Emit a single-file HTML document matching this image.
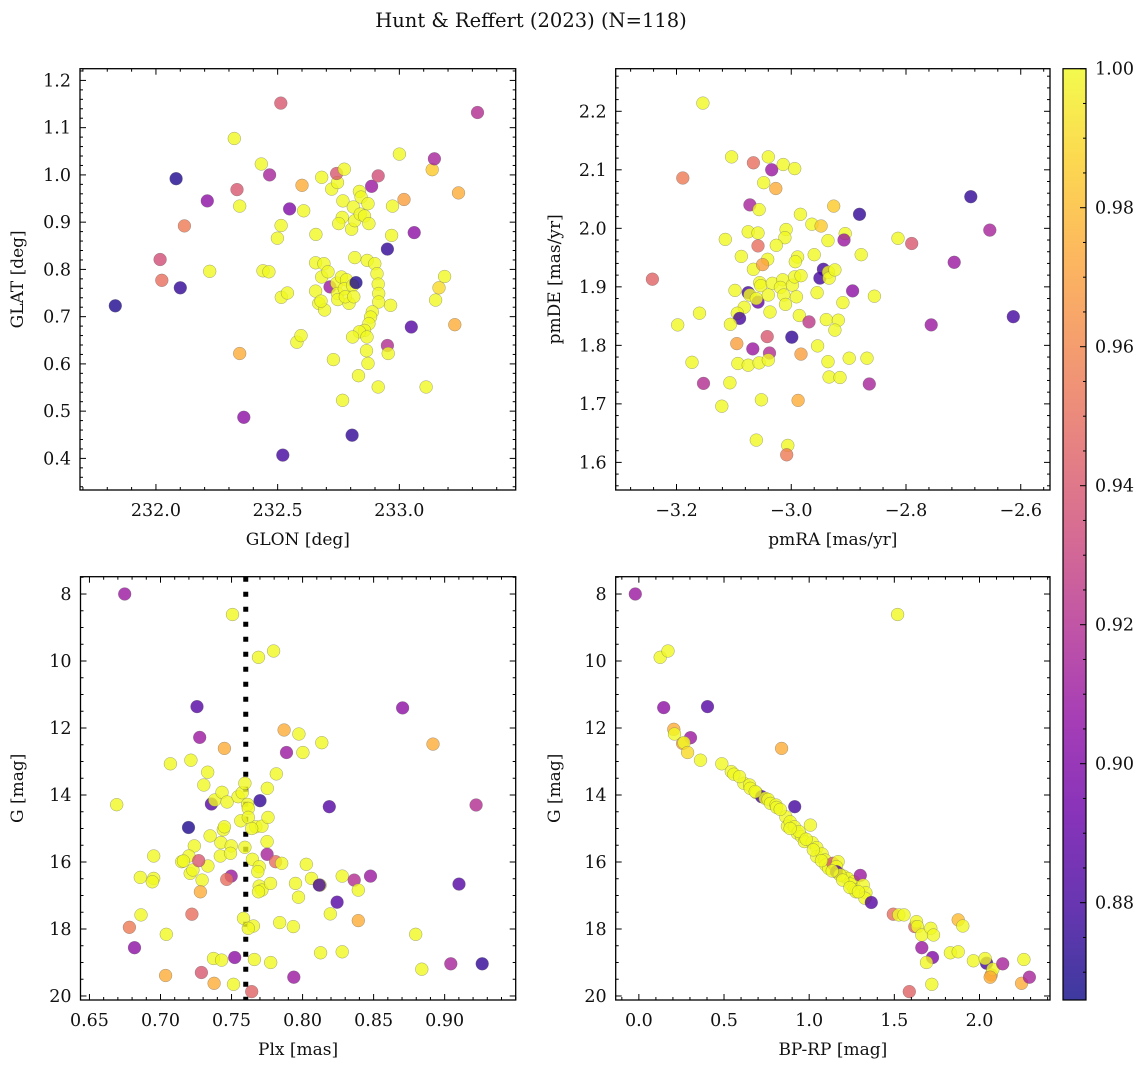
<!DOCTYPE html>
<html><head><meta charset="utf-8">
<style>
html,body{margin:0;padding:0;background:#fff;}
svg{display:block;}
text{font-family:"DejaVu Serif","Liberation Serif",serif;fill:#111;}
</style></head>
<body>
<svg id="fig" width="1148" height="1067" viewBox="0 0 1148 1067" xmlns="http://www.w3.org/2000/svg">
<defs>
<linearGradient id="plasmaGrad" x1="0" y1="1" x2="0" y2="0">
<stop offset="0" stop-color="#0d0887"/><stop offset="0.1" stop-color="#41049d"/><stop offset="0.2" stop-color="#6a00a8"/><stop offset="0.3" stop-color="#8f0da4"/><stop offset="0.4" stop-color="#b12a90"/><stop offset="0.5" stop-color="#cc4778"/><stop offset="0.6" stop-color="#e16462"/><stop offset="0.7" stop-color="#f2844b"/><stop offset="0.8" stop-color="#fca636"/><stop offset="0.9" stop-color="#fcce25"/><stop offset="1" stop-color="#f0f921"/>
</linearGradient>
</defs>
<text x="531" y="27" text-anchor="middle" font-size="19.5">Hunt &amp; Reffert (2023) (N=118)</text>
</svg>
<script>
// ---- Panel 1: GLON vs GLAT ----
const glon = [231.833,232.083,232.100,232.017,232.024,232.117,232.211,232.221,232.322,232.333,232.344,232.344,232.361,232.433,232.467,232.513,232.499,232.514,232.440,232.464,232.515,232.540,232.521,232.549,232.579,232.596,232.600,232.607,232.657,232.681,232.656,232.690,232.656,232.669,232.693,232.678,232.681,232.707,232.715,232.722,232.746,232.742,232.774,232.768,232.765,232.751,232.804,232.743,232.746,232.762,232.783,232.774,232.793,232.747,232.778,232.811,232.817,232.836,232.843,232.871,232.839,232.857,232.875,232.817,232.808,232.822,232.806,232.813,232.868,232.899,232.908,232.913,232.915,232.915,232.889,232.882,232.875,232.857,232.836,232.808,232.867,232.729,232.832,232.767,232.865,232.871,232.913,232.886,232.913,232.951,232.951,232.954,232.964,232.972,232.968,233.000,233.019,233.049,233.061,233.110,233.135,233.144,233.149,233.163,233.186,233.228,233.243,233.321];
const glat = [0.723,0.992,0.761,0.821,0.777,0.892,0.945,0.796,1.077,0.969,0.934,0.622,0.487,1.023,1.000,1.152,0.866,0.893,0.797,0.795,0.741,0.750,0.407,0.928,0.646,0.660,0.978,0.924,0.874,0.995,0.814,0.812,0.754,0.728,0.714,0.733,0.784,0.795,0.763,0.970,0.984,1.003,1.012,0.945,0.910,0.897,0.885,0.771,0.749,0.784,0.778,0.759,0.728,0.736,0.742,0.932,0.903,0.965,0.953,0.939,0.917,0.913,0.897,0.825,0.766,0.772,0.449,0.742,0.819,0.812,0.791,0.769,0.749,0.731,0.710,0.699,0.685,0.671,0.668,0.657,0.657,0.609,0.575,0.523,0.628,0.601,0.551,0.976,0.998,0.843,0.639,0.622,0.724,0.934,0.872,1.044,0.948,0.678,0.878,0.551,1.011,1.034,0.735,0.761,0.785,0.683,0.962,1.132];
const prob1 = [0.87,0.87,0.875,0.935,0.95,0.955,0.905,1,1,0.94,1,0.975,0.905,1,0.915,0.94,1,1,1,1,1,1,0.88,0.9,1,1,0.975,1,1,1,1,1,1,1,1,1,1,1,0.91,1,1,0.94,1,1,1,1,1,1,1,1,1,1,1,1,1,1,1,1,1,1,1,1,1,1,1,0.87,0.875,1,1,1,1,1,1,1,1,1,1,1,1,1,1,1,1,1,1,1,1,0.91,0.935,0.875,0.92,1,1,1,1,1,0.97,0.885,0.905,1,0.985,0.915,1,0.99,1,0.975,0.975,0.92];

// ---- Panel 2: pmRA vs pmDE ----
const pmra = [-3.242,-3.154,-3.189,-3.104,-3.066,-3.040,-3.034,-3.014,-2.994,-3.048,-3.027,-3.072,-3.056,-2.984,-2.926,-2.881,-2.964,-2.948,-3.009,-3.011,-3.075,-3.058,-3.115,-3.058,-3.026,-2.936,-2.906,-2.908,-2.814,-2.790,-2.687,-2.654,-2.716,-2.613,-2.756,-3.087,-3.066,-3.041,-3.050,-2.989,-2.993,-2.960,-2.878,-2.944,-2.950,-2.935,-2.934,-2.924,-3.055,-3.053,-3.033,-3.015,-3.019,-2.998,-2.994,-2.983,-3.013,-2.991,-3.010,-3.098,-3.075,-3.072,-3.058,-3.061,-3.040,-2.955,-2.893,-2.855,-2.910,-3.082,-3.094,-3.090,-3.106,-3.160,-3.198,-3.037,-2.986,-2.939,-2.918,-2.924,-2.969,-2.999,-3.042,-3.095,-3.067,-3.038,-2.954,-2.983,-3.173,-3.093,-3.075,-3.056,-3.040,-2.936,-2.899,-2.868,-2.934,-2.915,-3.153,-3.107,-2.864,-3.121,-3.052,-2.988,-3.061,-3.006,-3.008];
const pmde = [1.913,2.214,2.086,2.122,2.112,2.122,2.100,2.109,2.102,2.078,2.068,2.040,2.032,2.024,2.038,2.024,2.007,2.004,1.998,1.984,1.994,1.992,1.981,1.970,1.971,1.979,1.991,1.980,1.983,1.974,2.054,1.997,1.942,1.849,1.835,1.952,1.930,1.947,1.938,1.951,1.943,1.955,1.955,1.930,1.915,1.925,1.915,1.929,1.907,1.902,1.906,1.912,1.899,1.903,1.917,1.919,1.886,1.883,1.870,1.894,1.890,1.886,1.874,1.880,1.886,1.890,1.893,1.884,1.873,1.865,1.855,1.846,1.836,1.855,1.835,1.857,1.851,1.844,1.843,1.826,1.840,1.814,1.815,1.803,1.794,1.787,1.799,1.785,1.771,1.769,1.766,1.770,1.775,1.772,1.778,1.778,1.746,1.745,1.735,1.736,1.734,1.696,1.707,1.706,1.638,1.629,1.613];
const prob2 = [0.945,1,0.955,1,0.95,1,0.91,1,1,1,0.975,0.915,1,1,0.985,0.875,1,0.985,1,1,1,1,1,0.95,1,1,1,0.91,1,0.94,0.875,0.915,0.91,0.88,0.91,1,1,1,0.97,1,1,1,1,0.88,0.88,1,1,1,1,1,1,1,1,1,1,1,1,1,1,1,0.88,1,0.89,1,1,1,0.905,1,1,1,1,0.88,1,1,1,1,1,1,1,1,0.925,0.875,0.94,0.97,0.91,0.92,1,0.97,1,1,1,1,1,1,1,1,1,1,0.92,1,0.915,1,1,0.975,1,1,0.955];

// ---- Panel 3: Plx vs G ----
const plx = [0.6748,0.7507,0.7690,0.7796,0.7257,0.8704,0.7870,0.7974,0.8135,0.8918,0.7276,0.7450,0.7887,0.8002,0.7070,0.7214,0.7332,0.7305,0.7815,0.7752,0.6692,0.7358,0.7382,0.7433,0.7469,0.7546,0.7575,0.7594,0.7613,0.7618,0.7700,0.8188,0.9221,0.7197,0.7565,0.7618,0.7671,0.7714,0.7757,0.7642,0.7349,0.7442,0.7450,0.7425,0.7498,0.7594,0.7750,0.7238,0.6952,0.7200,0.7149,0.7161,0.7209,0.7228,0.7421,0.7493,0.7334,0.7269,0.7647,0.7695,0.7685,0.7750,0.7810,0.7853,0.8026,0.6858,0.6952,0.6942,0.6863,0.7293,0.7281,0.7498,0.7466,0.7695,0.7714,0.7774,0.7690,0.7950,0.7971,0.8063,0.8123,0.8118,0.8279,0.8363,0.8478,0.8392,0.8243,0.9101,0.8195,0.7221,0.6781,0.7041,0.7584,0.7654,0.7618,0.7839,0.7935,0.8392,0.8796,0.6817,0.7373,0.7430,0.7522,0.7661,0.7776,0.8127,0.8279,0.9043,0.9264,0.8839,0.7036,0.7288,0.7377,0.7514,0.7938,0.7642];
const gmag3 = [8.00,8.61,9.89,9.70,11.36,11.40,12.06,12.18,12.44,12.48,12.28,12.61,12.73,12.73,13.07,12.96,13.32,13.70,13.37,13.80,14.29,14.27,14.15,13.92,14.21,14.05,13.93,13.65,14.28,14.40,14.17,14.35,14.30,14.97,14.77,14.67,14.95,14.93,14.67,15.00,15.22,15.04,14.95,15.42,15.52,15.56,15.39,15.52,15.82,15.82,15.99,15.97,16.34,16.24,15.82,15.74,16.12,15.96,15.92,16.14,16.29,15.77,15.99,16.04,16.07,16.46,16.49,16.59,17.58,16.54,16.89,16.42,16.52,16.72,16.84,16.64,16.89,16.64,17.05,16.49,16.69,16.69,16.42,16.54,16.42,16.84,17.20,16.66,17.55,17.56,17.95,18.16,17.68,17.91,17.98,17.81,17.93,17.75,18.16,18.56,18.88,18.93,18.85,18.91,19.00,18.71,18.68,19.04,19.04,19.20,19.39,19.30,19.62,19.65,19.44,19.87];
const prob3 = [0.91,1,1,1,0.885,0.905,0.975,1,1,0.975,0.91,0.975,0.91,1,1,1,1,1,1,1,1,0.885,1,1,1,1,1,1,1,1,0.875,0.885,0.92,0.87,1,1,1,1,1,1,1,1,1,1,1,1,1,1,1,1,1,1,1,1,1,1,1,0.94,1,1,1,0.915,0.95,1,1,1,1,1,1,1,0.975,0.91,0.95,1,1,1,1,1,1,1,1,0.88,1,0.92,0.91,1,0.885,0.885,1,0.95,0.955,1,1,1,1,1,1,0.975,1,0.905,1,1,0.905,1,1,1,1,0.915,0.875,1,0.975,0.94,0.975,1,0.91,0.945];
const plxLine = [0.76];

// ---- Panel 4: BP-RP vs G ----
const bprp = [-0.021,1.519,0.125,0.171,0.146,0.403,0.205,0.209,0.303,0.257,0.265,0.286,0.362,0.838,0.487,0.543,0.558,0.617,0.650,0.654,0.690,0.721,0.742,0.759,0.773,0.805,0.809,0.915,0.863,0.872,0.888,0.913,0.930,0.955,1.007,0.972,1.018,1.045,1.045,1.076,1.093,1.097,1.114,1.139,1.170,1.160,1.174,1.202,1.227,1.260,1.243,1.300,1.264,1.275,1.317,1.333,1.327,1.365,1.160,1.181,1.494,1.526,1.557,1.620,1.630,1.636,1.661,1.714,1.730,1.661,1.724,1.689,1.720,1.588,1.875,1.902,1.829,1.875,1.964,2.042,2.033,2.069,2.079,2.063,2.136,2.261,2.247,2.293,0.940,0.982,1.024,1.072,1.135,1.197,1.239,1.289,0.591,0.683,0.830,0.888];
const gmag4 = [8.00,8.61,9.89,9.70,11.39,11.36,12.04,12.18,12.29,12.46,12.44,12.73,12.96,12.61,13.07,13.30,13.38,13.65,13.70,13.80,13.93,14.05,14.10,14.13,14.25,14.30,14.37,14.35,14.65,14.93,14.80,14.95,15.14,15.24,14.90,15.39,15.42,15.57,15.84,15.76,15.94,16.09,16.19,16.04,15.99,16.14,16.34,16.42,16.49,16.59,16.66,16.40,16.82,16.89,16.69,16.92,17.08,17.21,16.29,16.39,17.56,17.58,17.58,17.93,17.78,17.93,18.18,17.98,18.18,18.56,18.85,19.00,19.65,19.87,17.73,17.91,18.71,18.68,18.95,19.02,18.88,19.37,19.20,19.44,19.04,18.91,19.62,19.44,15.09,15.32,15.64,15.96,16.27,16.54,16.76,16.89,13.45,13.90,14.43,15.00];
const prob4 = [0.91,1,1,1,0.905,0.885,0.975,1,0.91,0.97,1,0.99,1,0.975,1,1,1,1,1,1,1,0.88,1,1,1,1,1,0.88,1,1,1,1,1,1,1,1,1,1,1,1,1,1,1,0.94,1,1,1,1,1,1,1,0.91,1,1,1,1,1,0.885,0.885,1,0.95,1,1,0.945,1,1,1,1,1,0.91,0.9,1,1,0.945,0.98,1,1,1,1,0.88,1,0.97,1,0.975,0.915,1,0.975,0.915,1,1,1,1,1,1,1,1,1,1,1,1];

// ---- Colorbar ----
const cbTicks = [0.88,0.90,0.92,0.94,0.96,0.98,1.00];
const cbRange = [0.866, 1.0];

// ---- Axis ticks ----
const glonTicks = [232.0,232.5,233.0];
const glatTicks = [0.4,0.5,0.6,0.7,0.8,0.9,1.0,1.1,1.2];
const pmraTicks = [-3.2,-3.0,-2.8,-2.6];
const pmdeTicks = [1.6,1.7,1.8,1.9,2.0,2.1,2.2];
const plxTicks = [0.65,0.70,0.75,0.80,0.85,0.90];
const gTicks = [8,10,12,14,16,18,20];
const bprpTicks = [0.0,0.5,1.0,1.5,2.0];

const NS='http://www.w3.org/2000/svg';
const svg=document.getElementById('fig');
function mk(tag,attrs,parent){const e=document.createElementNS(NS,tag);for(const k in attrs)e.setAttribute(k,attrs[k]);(parent||svg).appendChild(e);return e;}
function scale(d0,d1,r0,r1){return v=>r0+(v-d0)/(d1-d0)*(r1-r0);}
const stops=[[0.0,[13,8,135]],[0.1,[65,4,157]],[0.2,[106,0,168]],[0.3,[143,13,164]],[0.4,[177,42,144]],[0.5,[204,71,120]],[0.6,[225,100,98]],[0.7,[242,132,75]],[0.8,[252,166,54]],[0.9,[252,206,37]],[1.0,[240,249,33]]];
function plasma(t){t=Math.max(0,Math.min(1,t));for(let i=1;i<stops.length;i++){if(t<=stops[i][0]){const a=stops[i-1],b=stops[i];const f=(t-a[0])/(b[0]-a[0]);const c=a[1].map((v,j)=>Math.round(v+(b[1][j]-v)*f));return 'rgb('+c.join(',')+')';}}return 'rgb(240,249,33)';}
function fmt(v,d){return v.toFixed(d).replace('-','\u2212');}
const TF=17.5, LF=17;

function panel(o){
  const g=mk('g',{});
  
  
  const sx=scale(o.xd[0],o.xd[1],o.x0,o.x1);
  const sy=scale(o.yd[0],o.yd[1],o.y1,o.y0);
  if(o.vline){o.vline.forEach(v=>{const l=mk('line',{x1:sx(v),x2:sx(v),y1:o.y0,y2:o.y1,stroke:'#000','stroke-width':5,'stroke-dasharray':'5 10'},g);
    
    });}
  const pg=mk('g',{},g);
  
  
  for(let i=0;i<o.xs.length;i++){
    const c=mk('circle',{cx:sx(o.xs[i]).toFixed(1),cy:sy(o.ys[i]).toFixed(1),r:6.4,fill:plasma((o.ps[i]-cbRange[0])/(cbRange[1]-cbRange[0])),'fill-opacity':0.8,stroke:'#666','stroke-opacity':0.6,'stroke-width':0.5},pg);
    
    
  }
  const fr=mk('rect',{x:o.x0,y:o.y0,width:o.x1-o.x0,height:o.y1-o.y0,fill:'none',stroke:'#000','stroke-width':1.3},g);
  
  
  const tg=mk('g',{stroke:'#000','stroke-width':1},g);
  const xmin=Math.ceil(o.xd[0]/o.xminor-1e-9),xmax=Math.floor(o.xd[1]/o.xminor+1e-9);
  for(let k=xmin;k<=xmax;k++){const v=k*o.xminor,x=sx(v);const maj=o.xt.some(t=>Math.abs(t-v)<1e-6);const L=maj?6:3;
    mk('line',{x1:x,x2:x,y1:o.y1,y2:o.y1-L},tg);mk('line',{x1:x,x2:x,y1:o.y0,y2:o.y0+L},tg);}
  const ymin=Math.ceil(Math.min(...o.yd)/o.yminor-1e-9),ymax=Math.floor(Math.max(...o.yd)/o.yminor+1e-9);
  for(let k=ymin;k<=ymax;k++){const v=k*o.yminor,y=sy(v);const maj=o.yt.some(t=>Math.abs(t-v)<1e-6);const L=maj?6:3;
    mk('line',{x1:o.x0,x2:o.x0+L,y1:y,y2:y},tg);mk('line',{x1:o.x1,x2:o.x1-L,y1:y,y2:y},tg);}
  o.xt.forEach(v=>{const t=mk('text',{x:sx(v),y:o.y1+26,'text-anchor':'middle','font-size':TF},g);t.textContent=fmt(v,o.xdec);
    
    });
  o.yt.forEach(v=>{const t=mk('text',{x:o.x0-9,y:sy(v)+6,'text-anchor':'end','font-size':TF},g);t.textContent=fmt(v,o.ydec);
    
    });
  const xl=mk('text',{x:(o.x0+o.x1)/2,y:o.y1+55,'text-anchor':'middle','font-size':LF},g);xl.textContent=o.xlab;
  
  
  const cy=(o.y0+o.y1)/2;
  const yl=mk('text',{x:o.ylx,y:cy,'text-anchor':'middle','font-size':LF,transform:'rotate(-90 '+o.ylx+' '+cy+')'},g);yl.textContent=o.ylab;
  
  
}

panel({name:'glon-glat-panel',x0:80,x1:515.7,y0:68.7,y1:490,xd:[231.688,233.478],yd:[0.3331,1.2248],xs:glon,ys:glat,ps:prob1,xt:glonTicks,yt:glatTicks,xminor:0.1,yminor:0.02,xdec:1,ydec:1,xlab:'GLON [deg]',ylab:'GLAT [deg]',ylx:23});
panel({name:'proper-motion-panel',x0:615.7,x1:1050,y0:68.7,y1:490,xd:[-3.306,-2.549],yd:[1.5528,2.2728],xs:pmra,ys:pmde,ps:prob2,xt:pmraTicks,yt:pmdeTicks,xminor:0.04,yminor:0.02,xdec:1,ydec:1,xlab:'pmRA [mas/yr]',ylab:'pmDE [mas/yr]',ylx:560});
panel({name:'parallax-magnitude-panel',x0:80.5,x1:515.7,y0:576.7,y1:1000,xd:[0.6437,0.950],yd:[20.12,7.483],xs:plx,ys:gmag3,ps:prob3,xt:plxTicks,yt:gTicks,xminor:0.01,yminor:0.5,xdec:2,ydec:0,xlab:'Plx [mas]',ylab:'G [mag]',ylx:23,vline:plxLine});
panel({name:'color-magnitude-panel',x0:615.7,x1:1050,y0:576.7,y1:1000,xd:[-0.136,2.414],yd:[20.12,7.483],xs:bprp,ys:gmag4,ps:prob4,xt:bprpTicks,yt:gTicks,xminor:0.1,yminor:0.5,xdec:1,ydec:0,xlab:'BP-RP [mag]',ylab:'G [mag]',ylx:560});

(function(){
  const g=mk('g',{});
  
  
  const x0=1063,x1=1086,y0=68.7,y1=1000;
  const r=mk('rect',{x:x0,y:y0,width:x1-x0,height:y1-y0,fill:'url(#plasmaGrad)','fill-opacity':0.8,stroke:'#000','stroke-width':1.2},g);
  
  
  const sy=scale(cbRange[0],cbRange[1],y1,y0);
  for(let k=Math.ceil(cbRange[0]/0.005-1e-9);k<=Math.floor(cbRange[1]/0.005+1e-9);k++){const v=k*0.005,y=sy(v);const maj=cbTicks.some(t=>Math.abs(t-v)<1e-6);
    mk('line',{x1:x1,x2:x1-(maj?6:3),y1:y,y2:y,stroke:'#000','stroke-width':1},g);}
  cbTicks.forEach(v=>{const t=mk('text',{x:x1+9,y:sy(v)+6,'font-size':TF},g);t.textContent=v.toFixed(2);
    
    });
})();
</script>
</body></html>
